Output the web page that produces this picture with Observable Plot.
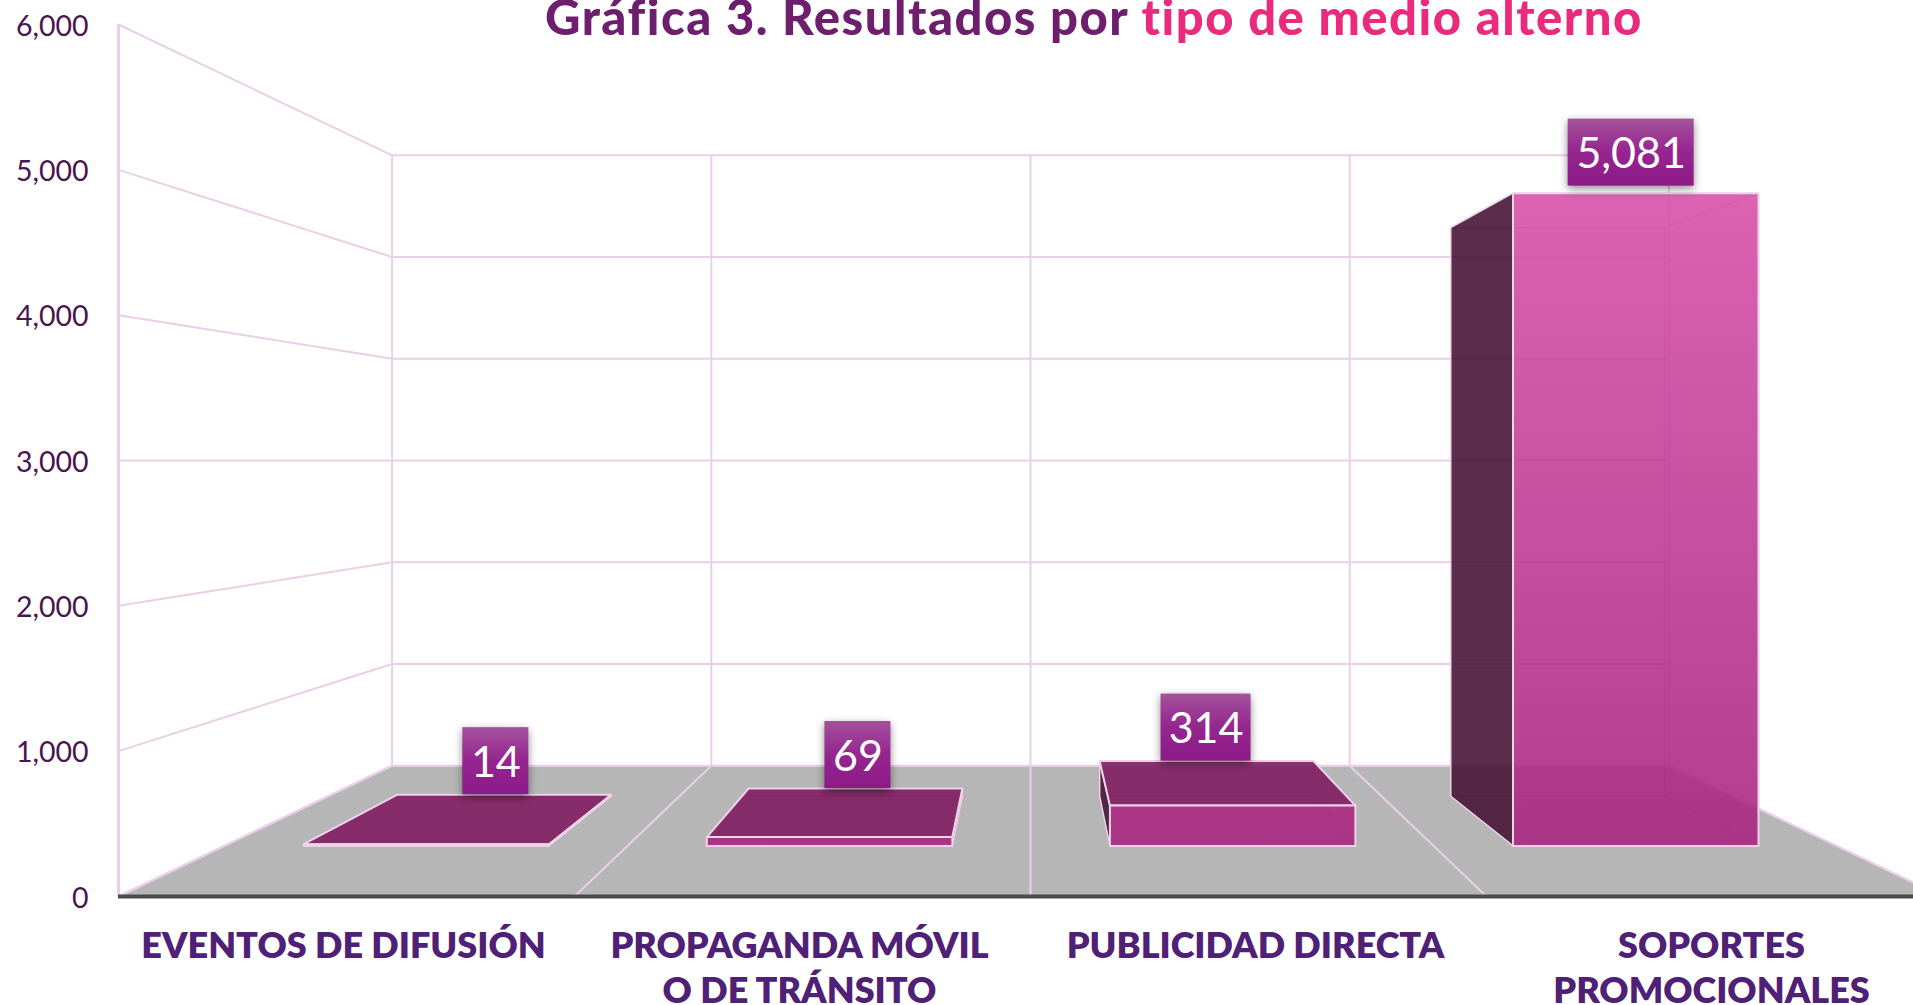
<!DOCTYPE html>
<html>
<head>
<meta charset="utf-8">
<script src="https://cdn.jsdelivr.net/npm/d3@7"></script>
<script src="https://cdn.jsdelivr.net/npm/@observablehq/plot@0.6"></script>
<style>
html,body{margin:0;padding:0;background:#fff;overflow:hidden;width:1913px;height:1005px}
#chart{position:relative;width:1913px;height:1005px;overflow:hidden}
#title{position:absolute;left:545px;top:-14px;white-space:nowrap;font:900 49px/60px Lato,sans-serif;letter-spacing:1.5px;color:#6d1f6e}
#title span{color:#ea2b7d}
</style>
</head>
<body>
<div id="chart"><div id="title">Gráfica 3. Resultados por <span>tipo de medio alterno</span></div></div>
<script>
const categories = ["EVENTOS DE DIFUSIÓN", "PROPAGANDA MÓVIL\nO DE TRÁNSITO", "PUBLICIDAD DIRECTA", "SOPORTES\nPROMOCIONALES"];
const values = [14, 69, 314, 5081];
const valueLabels = ["14", "69", "314", "5,081"];
const yTicks = [0, 1000, 2000, 3000, 4000, 5000, 6000];
const slots = [0, 1, 2, 3, 4];

// perspective: every 3D point (slot, value, depth scale) projects toward the vanishing point
const vanishSlot = 2, vanishValue = 3000;
const kWall = 0.7, kFront = 0.884, kBack = 0.77;
const barStart = 0.197, barEnd = 0.806;
const px = (s, k) => vanishSlot + (s - vanishSlot) * k;
const py = (v, k) => vanishValue + (v - vanishValue) * k;

const xRange = [118, 1942], yRange = [896, 24];
const slotPerPixel = 4 / (xRange[1] - xRange[0]);
const valuePerPixel = 6000 / (yRange[0] - yRange[1]);

function quad(id, corners) {
  return corners.map(([s, v, k]) => ({id, x: px(s, k), y: py(v, k)}));
}
const faces = {back: [], inner: [], side: [], top: [], front: []};
values.forEach((v, i) => {
  const a = i + barStart, b = i + barEnd;
  faces.inner.push(...quad(`back${i}`, [[a,0,kBack],[b,0,kBack],[b,v,kBack],[a,v,kBack]]));
  faces.inner.push(...quad(`bottom${i}`, [[a,0,kBack],[b,0,kBack],[b,0,kFront],[a,0,kFront]]));
  const left = quad(`left${i}`, [[a,0,kBack],[a,0,kFront],[a,v,kFront],[a,v,kBack]]);
  const right = quad(`right${i}`, [[b,0,kBack],[b,0,kFront],[b,v,kFront],[b,v,kBack]]);
  (a > vanishSlot ? faces.side : faces.inner).push(...left);
  (b < vanishSlot ? faces.side : faces.inner).push(...right);
  const top = quad(`top${i}`, [[a,v,kBack],[b,v,kBack],[b,v,kFront],[a,v,kFront]]);
  (v < vanishValue ? faces.top : faces.inner).push(...top);
  faces.front.push(...quad(`front${i}`, [[a,0,kFront],[b,0,kFront],[b,v,kFront],[a,v,kFront]]));
});

const floor = quad("floor", [[0,0,1],[4,0,1],[4,0,kWall],[0,0,kWall]]);

const wallLines = yTicks.map(v => ({x1: px(0,1), y1: py(v,1), x2: px(0,kWall), y2: py(v,kWall)}));
const backH = yTicks.map(v => ({x1: px(0,kWall), y1: py(v,kWall), x2: px(4,kWall), y2: py(v,kWall)}));
const backV = slots.map(s => ({x1: px(s,kWall), y1: py(0,kWall), x2: px(s,kWall), y2: py(6000,kWall)}));
const floorLines = slots.map(s => ({x1: px(s,1), y1: py(0,1), x2: px(s,kWall), y2: py(0,kWall)}));
const frontEdge = [{x1: 0, y1: 0, x2: 0, y2: 6000}];

// data label boxes: sit on the back top edge of low bars, on the front top edge of the tall one
const boxWidth = [66, 66, 90, 126], boxHeight = 67, boxGap = [0, 0, 0, 7], labelNudge = [-8, 3, 0, -4];
const labels = values.map((v, i) => {
  const k = v > vanishValue ? kFront : kBack;
  const cx = px(i + 0.5, k) + labelNudge[i] * slotPerPixel;
  const bottom = py(v, k) + boxGap[i] * valuePerPixel;
  return {
    text: valueLabels[i], cx,
    x1: cx - boxWidth[i] / 2 * slotPerPixel,
    x2: cx + boxWidth[i] / 2 * slotPerPixel,
    y1: bottom, y2: bottom + boxHeight * valuePerPixel,
    cy: bottom + boxHeight / 2 * valuePerPixel
  };
});

const gridColor = "#eacfe9", edgeColor = "#ecd3ea";
const face = (data, opts) => Plot.line(data, {x: "x", y: "y", z: "id", curve: "linear-closed", ...opts});

const plot = Plot.plot({
  width: 1913, height: 1005,
  marginLeft: 118, marginRight: 0, marginTop: 24, marginBottom: 109,
  style: {background: "transparent", overflow: "hidden"},
  x: {domain: [0, 4], range: xRange, axis: null},
  y: {domain: [0, 6000], range: yRange, axis: null},
  marks: [
    face(floor, {fill: "#b6b6b6", stroke: edgeColor, strokeWidth: 1.5}),
    Plot.link(wallLines, {x1: "x1", y1: "y1", x2: "x2", y2: "y2", stroke: gridColor, strokeWidth: 2}),
    Plot.link(backH, {x1: "x1", y1: "y1", x2: "x2", y2: "y2", stroke: gridColor, strokeWidth: 2}),
    Plot.link(backV, {x1: "x1", y1: "y1", x2: "x2", y2: "y2", stroke: gridColor, strokeWidth: 2}),
    Plot.link(floorLines, {x1: "x1", y1: "y1", x2: "x2", y2: "y2", stroke: gridColor, strokeWidth: 2}),
    Plot.link(frontEdge, {x1: "x1", y1: "y1", x2: "x2", y2: "y2", stroke: gridColor, strokeWidth: 3}),
    Plot.ruleY([0], {stroke: "#4a4a4a", strokeWidth: 4}),
    Plot.axisY({ticks: yTicks, tickFormat: d => d3.format(",")(d), tickSize: 0, tickPadding: 30, label: null,
      fontSize: 28.5, fontFamily: "Lato", fontWeight: 400, color: "#4a164f", dy: 2}),
    Plot.text(categories, {x: (d, i) => i + 0.5, y: () => 0, text: d => d, dx: -3, dy: 30, lineAnchor: "top",
      lineHeight: 1.25, fontSize: 36, fontFamily: "Lato", fontWeight: 800, fill: "#4f2176"}),
    face(faces.inner, {fill: "#a42a80", fillOpacity: 0.06, stroke: "#9c2c7c", strokeOpacity: 0.14, strokeWidth: 1.5}),
    face(faces.side, {fill: "#481737", fillOpacity: 0.9, stroke: edgeColor, strokeWidth: 1.5}),
    face(faces.top, {fill: "#811e62", fillOpacity: 0.9, stroke: edgeColor, strokeWidth: 2}),
    face(faces.front, {fill: "url(#frontGradient)", fillOpacity: 0.88, stroke: edgeColor, strokeWidth: 2}),
    Plot.rect(labels, {x1: "x1", x2: "x2", y1: "y1", y2: "y2", fill: "url(#labelGradient)"}),
    Plot.text(labels, {x: "cx", y: "cy", text: "text", dy: 2, fontSize: 43, fontFamily: "Lato", fill: "#fff"})
  ]
});

// gradients and shadows
const yScale = plot.scale("y");
const svg = d3.select(plot);
const defs = svg.append("defs");
const front = defs.append("linearGradient").attr("id", "frontGradient")
  .attr("gradientUnits", "userSpaceOnUse")
  .attr("x1", 0).attr("x2", 0)
  .attr("y1", yScale.apply(py(d3.max(values), kFront)))
  .attr("y2", yScale.apply(py(0, kFront)));
front.append("stop").attr("offset", 0).attr("stop-color", "#d74fa8");
front.append("stop").attr("offset", 1).attr("stop-color", "#a9247f");
const lab = defs.append("linearGradient").attr("id", "labelGradient")
  .attr("x1", 0).attr("x2", 0).attr("y1", 0).attr("y2", 1);
lab.append("stop").attr("offset", 0).attr("stop-color", "#a4529c");
lab.append("stop").attr("offset", 0.5).attr("stop-color", "#95258f");
lab.append("stop").attr("offset", 1).attr("stop-color", "#8c1a88");
svg.selectAll('g[aria-label="rect"]').style("filter", "drop-shadow(0 3px 4px rgba(0,0,0,.45))");

document.getElementById("chart").prepend(plot);
</script>
</body>
</html>
